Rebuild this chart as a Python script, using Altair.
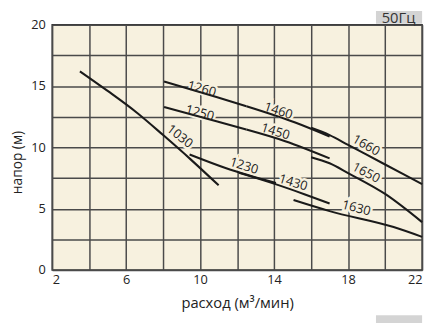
import altair as alt
import pandas as pd

# ---- data ----
X_1030 = [3.5, 5.0, 6.6, 8.0, 9.5, 11.0]
Y_1030 = [16.2, 14.6, 12.8, 11.0, 9.0, 6.9]

X_1260 = [8.05, 10.88, 12.5]
Y_1260 = [15.36, 14.1, 13.35]
X_1460 = [12.5, 15.14, 17.0]
Y_1460 = [13.35, 12.02, 10.88]
X_1660 = [16.0, 17.0, 18.0, 20.0, 22.0]
Y_1660 = [11.6, 11.0, 10.2, 8.6, 7.0]

X_1250 = [8.05, 10.88, 12.5]
Y_1250 = [13.28, 12.12, 11.45]
X_1450 = [12.5, 14.6, 17.0]
Y_1450 = [11.45, 10.5, 9.1]
X_1650 = [16.0, 17.0, 18.0, 20.0, 22.0]
Y_1650 = [9.2, 8.7, 7.9, 6.2, 3.9]

X_1230 = [9.43, 11.41, 14.1]
Y_1230 = [9.42, 8.3, 7.1]
X_1430 = [12.1, 14.07, 15.67, 17.0]
Y_1430 = [7.92, 7.0, 6.16, 5.42]
X_1630 = [15.05, 17.0, 20.46, 22.0]
Y_1630 = [5.7, 4.8, 3.5, 2.7]

LABEL_TEXT = ["1260", "1460", "1660", "1250", "1450", "1650", "1030", "1230", "1430", "1630"]
LABEL_X = [10.09, 14.23, 18.97, 9.98, 14.07, 18.97, 8.9, 12.37, 15.03, 18.44]
LABEL_Y = [14.76, 12.96, 10.16, 12.8, 11.28, 7.92, 10.9, 8.48, 7.12, 5.04]
LABEL_ANGLE = [15, 18, 30, 15, 17, 28, 38, 17, 17, 15]

X_GRID = [2, 4, 6, 8, 10, 12, 14, 16, 18, 20, 22]
Y_GRID = [0, 2.5, 5, 7.5, 10, 12.5, 15, 17.5, 20]

series = {
    "1030": (X_1030, Y_1030), "1260": (X_1260, Y_1260), "1460": (X_1460, Y_1460),
    "1660": (X_1660, Y_1660), "1250": (X_1250, Y_1250), "1450": (X_1450, Y_1450),
    "1650": (X_1650, Y_1650), "1230": (X_1230, Y_1230), "1430": (X_1430, Y_1430),
    "1630": (X_1630, Y_1630),
}
rows = []
for name, (xs, ys) in series.items():
    for i, (xv, yv) in enumerate(zip(xs, ys)):
        rows.append({"s": name, "x": xv, "y": yv, "i": i})
curves = pd.DataFrame(rows)
labels = pd.DataFrame({"t": LABEL_TEXT, "x": LABEL_X, "y": LABEL_Y, "a": LABEL_ANGLE})

FONT = "Open Sans"
BG = "#f7f1df"
GRID = "#4a4a4a"

xscale = alt.Scale(domain=[2, 22], nice=False, zero=False)
yscale = alt.Scale(domain=[0, 20], nice=False)

xaxis = alt.Axis(values=X_GRID, grid=True, gridColor=GRID, gridWidth=1.5, gridOpacity=1,
                 ticks=False, domain=False,
                 labelExpr="(datum.value - 2) % 4 == 0 ? datum.label : ''",
                 labelFont=FONT, labelFontSize=13, labelColor="#222", labelPadding=4,
                 title="расход (м³/мин)", titleFont=FONT, titleFontSize=15,
                 titleFontWeight="normal", titleColor="#222", titleY=38,
                 titleBaseline="alphabetic")
yaxis = alt.Axis(values=Y_GRID, grid=True, gridColor=GRID, gridWidth=1.5, gridOpacity=1,
                 ticks=False, domain=False,
                 labelExpr="datum.value % 5 == 0 ? datum.label : ''",
                 labelFont=FONT, labelFontSize=13, labelColor="#222", labelPadding=7,
                 title="напор (м)", titleFont=FONT, titleFontSize=14,
                 titleFontWeight="normal", titleColor="#222", titleX=-35, titleY=140,
                 titleBaseline="middle", titleAngle=-90)

X_ENC = alt.X("x:Q", scale=xscale, axis=xaxis)
Y_ENC = alt.Y("y:Q", scale=yscale, axis=yaxis)

halo = alt.Chart(labels).mark_text(font=FONT, fontSize=13, stroke=BG, strokeWidth=5,
                                   fill=BG).encode(
    x=X_ENC, y=Y_ENC, text="t:N", angle=alt.Angle("a:Q", scale=None))

lines = alt.Chart(curves).mark_line(color="#1a1a1a", strokeWidth=2.1,
                                     interpolate="monotone").encode(
    x=X_ENC, y=Y_ENC, detail="s:N", order="i:Q")

txt = alt.Chart(labels).mark_text(font=FONT, fontSize=13, color="#222").encode(
    x=X_ENC, y=Y_ENC, text="t:N", angle=alt.Angle("a:Q", scale=None))

hz = pd.DataFrame({"t": ["50Гц", "60Гц"]})
box50 = alt.Chart(hz.iloc[[0]]).mark_rect(color="#d4d4d4").encode(
    x=alt.value(330), x2=alt.value(377), y=alt.value(-14), y2=alt.value(-1))
txt50 = alt.Chart(hz.iloc[[0]]).mark_text(font=FONT, fontSize=15, color="#333",
                                          baseline="alphabetic").encode(
    x=alt.value(353), y=alt.value(-2), text="t:N")
box60 = alt.Chart(hz.iloc[[1]]).mark_rect(color="#d4d4d4").encode(
    x=alt.value(330), x2=alt.value(377), y=alt.value(296), y2=alt.value(320))
txt60 = alt.Chart(hz.iloc[[1]]).mark_text(font=FONT, fontSize=15, color="#333").encode(
    x=alt.value(353), y=alt.value(310), text="t:N")

chart = alt.layer(halo, lines, txt, box50, txt50, box60, txt60).properties(
    width=377, height=250,
    autosize=alt.AutoSizeParams(type="none"),
    padding={"left": 45, "top": 14, "right": 5, "bottom": 51},
    background="white",
).configure_view(fill=BG, stroke="#333", strokeWidth=1.5)

chart.save("out.html", embed_options={"renderer": "svg", "actions": False})
